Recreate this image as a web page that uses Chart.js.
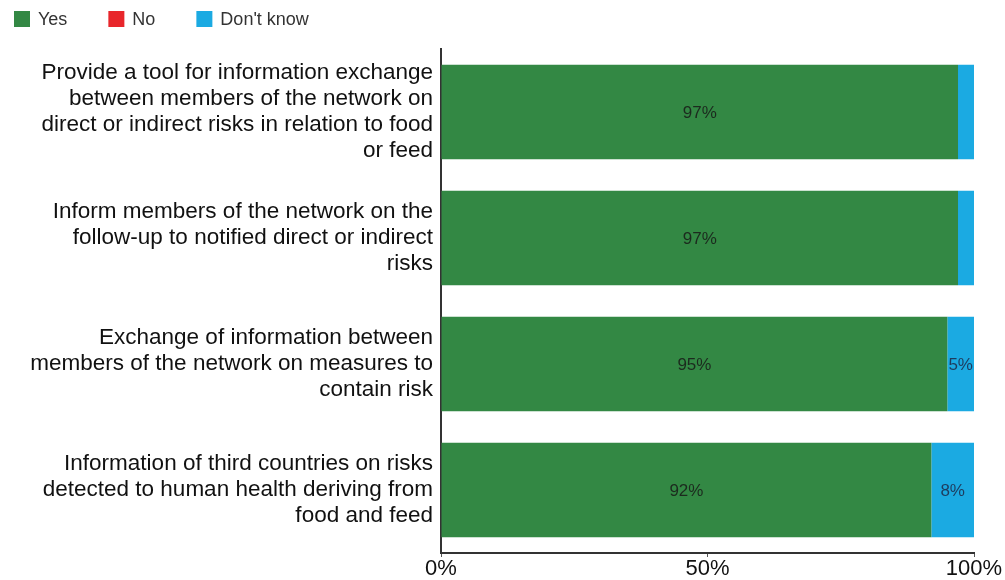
<!DOCTYPE html>
<html>
<head>
<meta charset="utf-8">
<script src="https://cdn.jsdelivr.net/npm/chart.js@4/dist/chart.umd.min.js"></script>
<style>
  html, body { margin: 0; padding: 0; background: #fff; }
  #wrap { width: 1005px; height: 580px; position: relative; }
</style>
</head>
<body>
<div id="wrap"><canvas id="c"></canvas></div>
<script>
// Survey statements (one per bar), wrapped into display lines
const categories = [
  ['Provide a tool for information exchange', 'between members of the network on', 'direct or indirect risks in relation to food', 'or feed'],
  ['Inform members of the network on the', 'follow-up to notified direct or indirect', 'risks'],
  ['Exchange of information between', 'members of the network on measures to', 'contain risk'],
  ['Information of third countries on risks', 'detected to human health deriving from', 'food and feed']
];

// Share of answers, in percent
const yesValues = [97, 97, 95, 92];
const noValues = [0, 0, 0, 0];
const dontKnowValues = [3, 3, 5, 8];

const seriesNames = ['Yes', 'No', "Don't know"];
const xTicks = [0, 50, 100];

const COLORS = { yes: '#338844', no: '#e8262b', dk: '#1baae2' };
const FONT = '"Liberation Sans", Arial, sans-serif';

// Square-swatch legend drawn along the top-left edge
const topLegend = {
  id: 'topLegend',
  afterDraw(chart) {
    const ctx = chart.ctx;
    ctx.save();
    ctx.font = '18px ' + FONT;
    ctx.textBaseline = 'middle';
    let x = 14;
    const y = 19;
    chart.data.datasets.forEach(ds => {
      ctx.fillStyle = ds.backgroundColor;
      ctx.fillRect(x, y - 8, 16, 16);
      ctx.fillStyle = '#333';
      ctx.textAlign = 'left';
      ctx.fillText(ds.label, x + 24, y + 1);
      x += 24 + ctx.measureText(ds.label).width + 41;
    });
    ctx.restore();
  }
};

// Percentage labels centred in each segment (small segments left unlabelled)
const segmentLabels = {
  id: 'segmentLabels',
  afterDatasetsDraw(chart) {
    const ctx = chart.ctx;
    ctx.save();
    ctx.font = '17px ' + FONT;
    ctx.textAlign = 'center';
    ctx.textBaseline = 'middle';
    chart.data.datasets.forEach((ds, di) => {
      const meta = chart.getDatasetMeta(di);
      meta.data.forEach((bar, i) => {
        const v = ds.data[i];
        if (v < 5) return;
        ctx.fillStyle = ds.labelColor;
        ctx.fillText(v + '%', (bar.x + bar.base) / 2, bar.y + 1);
      });
    });
    ctx.restore();
  }
};

new Chart(document.getElementById('c'), {
  type: 'bar',
  data: {
    labels: categories,
    datasets: [
      { label: seriesNames[0], data: yesValues, backgroundColor: COLORS.yes, labelColor: '#1c2a1e' },
      { label: seriesNames[1], data: noValues, backgroundColor: COLORS.no, labelColor: '#222' },
      { label: seriesNames[2], data: dontKnowValues, backgroundColor: COLORS.dk, labelColor: '#1e3c5e' }
    ]
  },
  options: {
    indexAxis: 'y',
    responsive: true,
    maintainAspectRatio: false,
    animation: false,
    layout: { padding: { top: 49, right: 31, left: 0, bottom: 0 } },
    datasets: { bar: { barPercentage: 0.75, categoryPercentage: 1, borderWidth: 0 } },
    plugins: { legend: { display: false }, tooltip: { enabled: false } },
    scales: {
      x: {
        stacked: true,
        min: 0,
        max: 100,
        afterBuildTicks(scale) { scale.ticks = xTicks.map(v => ({ value: v })); },
        afterFit(scale) { scale.height = 27; },
        ticks: { callback: v => v + '%', color: '#111', font: { family: FONT, size: 22, lineHeight: 1 }, padding: 1, maxRotation: 0 },
        grid: { display: true, drawOnChartArea: false, drawTicks: true, tickLength: 4, color: '#555' },
        border: { display: true, color: '#333', width: 2 }
      },
      y: {
        stacked: true,
        afterFit(scale) {
          scale.width = 441;
          // multi-line labels may overhang the plot edges; keep the plot full height
          scale.paddingTop = 0;
          scale.paddingBottom = 0;
        },
        ticks: { color: '#111', font: { family: FONT, size: 22.5, lineHeight: 1.16 }, padding: 8, autoSkip: false },
        grid: { display: false, drawTicks: false },
        border: { display: true, color: '#333', width: 2 }
      }
    }
  },
  plugins: [topLegend, segmentLabels]
});
</script>
</body>
</html>
